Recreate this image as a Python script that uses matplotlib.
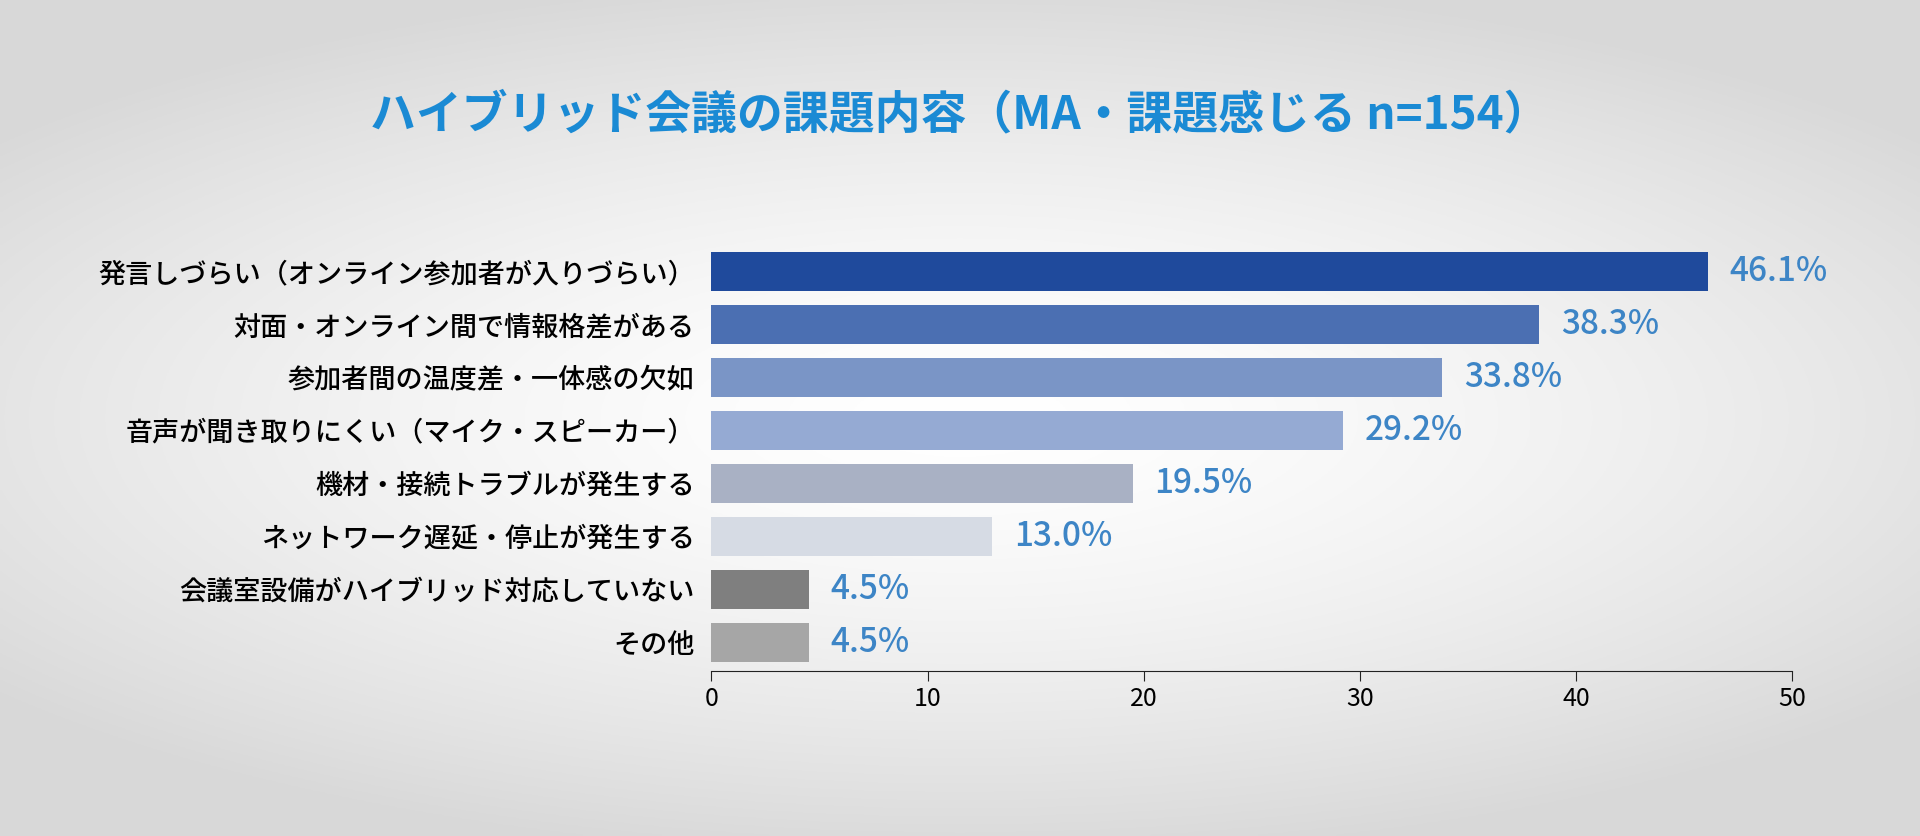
import matplotlib
matplotlib.use("Agg")
import matplotlib.pyplot as plt
import numpy as np

plt.rcParams['font.family'] = ['Noto Sans CJK JP', 'DejaVu Sans']

categories = ["発言しづらい（オンライン参加者が入りづらい）", "対面・オンライン間で情報格差がある",
              "参加者間の温度差・一体感の欠如", "音声が聞き取りにくい（マイク・スピーカー）",
              "機材・接続トラブルが発生する", "ネットワーク遅延・停止が発生する",
              "会議室設備がハイブリッド対応していない", "その他"]
values = [46.1, 38.3, 33.8, 29.2, 19.5, 13.0, 4.5, 4.5]
colors = ["#1f4a9c", "#4b6fb2", "#7a95c6", "#95aad3", "#a9b1c4", "#d6dbe4", "#7f7f7f", "#a6a6a6"]
xticks = [0, 10, 20, 30, 40, 50]

fig = plt.figure(figsize=(19.2, 8.36), dpi=100)
bg = fig.add_axes([0, 0, 1, 1])
yy, xx = np.mgrid[-1:1:300j, -1:1:600j]
r = np.sqrt((xx * 0.9) ** 2 + (yy * 1.1) ** 2)
g = np.clip(1.0 - 0.12 * r ** 1.5, 0.85, 1.0)
bg.imshow(np.dstack([g, g, g]), aspect='auto', extent=[0, 1, 0, 1])
bg.axis('off')

fig.text(0.5, 0.862, "ハイブリッド会議の課題内容（MA・課題感じる n=154）", ha='center', va='center',
         fontsize=33, fontweight='bold', color='#1a8ad4')

ax = fig.add_axes([0.3705, 0.197, 0.563, 0.51])
ax.patch.set_alpha(0)
y = np.arange(len(categories))
ax.barh(y, values, height=0.74, color=colors)
for yi, v in zip(y, values):
    ax.text(v + 1.0, yi, f"{v:.1f}%", va='center', ha='left', fontsize=24, color='#3d85c6',
            fontweight='medium')
ax.set_ylim(len(categories) - 0.5 + 0.05, -0.5)
ax.set_xlim(0, 50)
ax.set_xticks(xticks)
ax.tick_params(axis='x', labelsize=18, length=7, direction='out', color='#222222')
ax.set_yticks(y)
ax.set_yticklabels(categories, fontsize=19.5, fontweight='medium')
ax.tick_params(axis='y', length=0, pad=12)
for s in ['top', 'right', 'left']:
    ax.spines[s].set_visible(False)
ax.spines['bottom'].set_color('#222222')

fig.savefig("out.png", dpi=100)
